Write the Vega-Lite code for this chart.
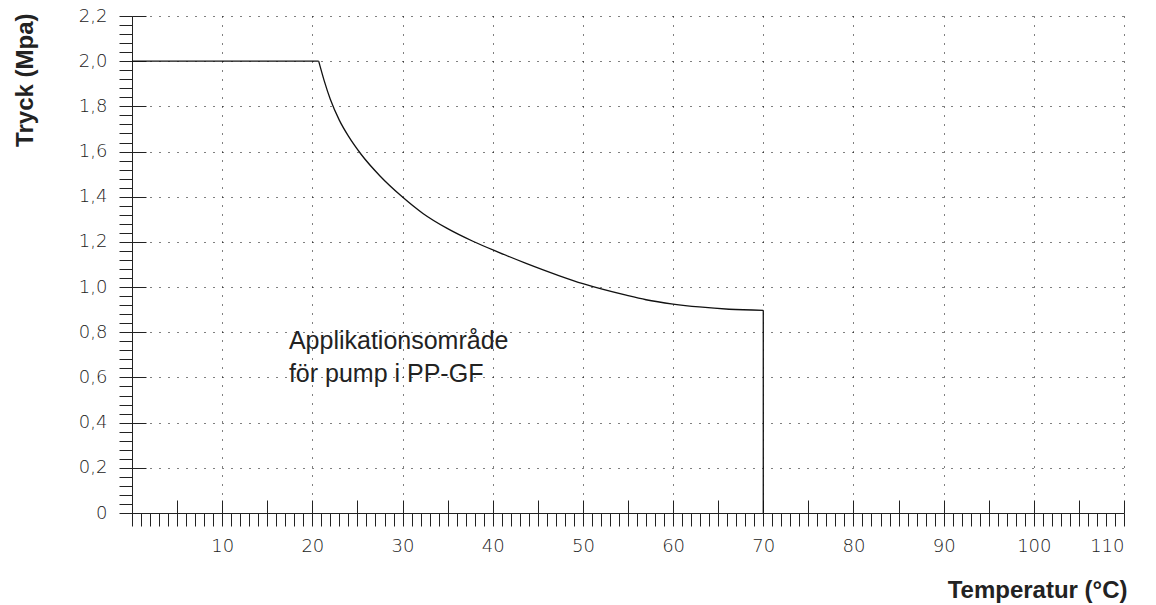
{
  "$schema": "https://vega.github.io/schema/vega-lite/v6.json",
  "autosize": "none",
  "width": 992,
  "height": 497,
  "padding": {"left": 132, "top": 16, "right": 32, "bottom": 92},
  "background": "white",
  "config": {"view": {"stroke": null}},
  "datasets": {
    "curve": [
      {"T": 0, "P": 2.0, "seg": "a"},
      {"T": 20.7, "P": 2.0, "seg": "a"},
      {"T": 20.7, "P": 2.0, "seg": "b"},
      {"T": 21.3, "P": 1.915, "seg": "b"},
      {"T": 22.0, "P": 1.83, "seg": "b"},
      {"T": 23.0, "P": 1.738, "seg": "b"},
      {"T": 24.0, "P": 1.668, "seg": "b"},
      {"T": 25.4, "P": 1.588, "seg": "b"},
      {"T": 27.5, "P": 1.492, "seg": "b"},
      {"T": 29.9, "P": 1.402, "seg": "b"},
      {"T": 32.3, "P": 1.325, "seg": "b"},
      {"T": 34.9, "P": 1.261, "seg": "b"},
      {"T": 37.8, "P": 1.203, "seg": "b"},
      {"T": 40.6, "P": 1.155, "seg": "b"},
      {"T": 43.7, "P": 1.105, "seg": "b"},
      {"T": 47.4, "P": 1.05, "seg": "b"},
      {"T": 50.0, "P": 1.015, "seg": "b"},
      {"T": 54.8, "P": 0.964, "seg": "b"},
      {"T": 57.0, "P": 0.944, "seg": "b"},
      {"T": 60.0, "P": 0.925, "seg": "b"},
      {"T": 62.9, "P": 0.912, "seg": "b"},
      {"T": 66.2, "P": 0.902, "seg": "b"},
      {"T": 70.0, "P": 0.897, "seg": "b"},
      {"T": 70.0, "P": 0.897, "seg": "c"},
      {"T": 70.0, "P": 0.0, "seg": "c"}
    ],
    "note": [
      {"T": 17.4, "P": 0.724, "label": "Applikationsområde\nför pump i PP-GF"}
    ]
  },
  "resolve": {"axis": {"x": "independent", "y": "independent"}},
  "layer": [
    {
      "data": {"name": "curve"},
      "mark": {"type": "point", "opacity": 0},
      "encoding": {
        "x": {"field": "T", "type": "quantitative",
          "scale": {"domain": [0, 110], "nice": false, "zero": false},
          "axis": {"orient": "bottom", "values": [10,20,30,40,50,60,70,80,90,100,110], "ticks": false, "domain": false,
            "grid": true, "gridDash": [1, 8], "gridColor": "#000", "gridWidth": 1, "gridOpacity": 1,
            "labelPadding": 24, "labelFont": "DejaVu Sans", "labelFontWeight": 200, "labelFontSize": 18, "labelColor": "#222",
            "title": "Temperatur (°C)", "titleFont": "Liberation Sans", "titleFontWeight": "bold", "titleFontSize": 24, "titleColor": "#222",
            "titleAnchor": null, "titleAlign": "right", "titleBaseline": "middle", "titleX": 995, "titleY": 77}},
        "y": {"field": "P", "type": "quantitative",
          "scale": {"domain": [0, 2.2], "nice": false, "zero": false},
          "axis": {"orient": "left", "values": [0,0.2,0.4,0.6,0.8,1.0,1.2,1.4,1.6,1.8,2.0,2.2], "ticks": false, "domain": false,
            "grid": true, "gridDash": [1, 8], "gridColor": "#000", "gridWidth": 1, "gridOpacity": 1,
            "labelExpr": "datum.value == 0 ? '0' : replace(format(datum.value, '.1f'), '.', ',')",
            "labelPadding": 25, "labelFont": "DejaVu Sans", "labelFontWeight": 200, "labelFontSize": 18, "labelColor": "#222",
            "title": "Tryck (Mpa)", "titleFont": "Liberation Sans", "titleFontWeight": "bold", "titleFontSize": 24, "titleColor": "#222",
            "titleAnchor": null, "titleAngle": 270, "titleAlign": "right", "titleBaseline": "middle", "titleX": -107, "titleY": -3}}
      }
    },
    {
      "data": {"name": "curve"},
      "mark": {"type": "line", "color": "#111", "strokeWidth": 1.3, "interpolate": "monotone"},
      "encoding": {
        "x": {"field": "T", "type": "quantitative",
          "axis": {"orient": "bottom", "values": [0,1,2,3,4,5,6,7,8,9,10,11,12,13,14,15,16,17,18,19,20,21,22,23,24,25,26,27,28,29,30,31,32,33,34,35,36,37,38,39,40,41,42,43,44,45,46,47,48,49,50,51,52,53,54,55,56,57,58,59,60,61,62,63,64,65,66,67,68,69,70,71,72,73,74,75,76,77,78,79,80,81,82,83,84,85,86,87,88,89,90,91,92,93,94,95,96,97,98,99,100,101,102,103,104,105,106,107,108,109,110],
            "tickSize": 13, "tickColor": "#222", "tickWidth": 1, "domain": true, "domainColor": "#222", "domainWidth": 1,
            "labels": false, "grid": false, "title": null}},
        "y": {"field": "P", "type": "quantitative",
          "axis": {"orient": "left", "values": [0,0.04,0.08,0.12,0.16,0.2,0.24,0.28,0.32,0.36,0.4,0.44,0.48,0.52,0.56,0.6,0.64,0.68,0.72,0.76,0.8,0.84,0.88,0.92,0.96,1.0,1.04,1.08,1.12,1.16,1.2,1.24,1.28,1.32,1.36,1.4,1.44,1.48,1.52,1.56,1.6,1.64,1.68,1.72,1.76,1.8,1.84,1.88,1.92,1.96,2.0,2.04,2.08,2.12,2.16,2.2],
            "tickSize": 13, "tickColor": "#222", "tickWidth": 1, "domain": true, "domainColor": "#222", "domainWidth": 1,
            "labels": false, "grid": false, "title": null}},
        "detail": {"field": "seg", "type": "nominal"}
      }
    },
    {
      "data": {"name": "note"},
      "mark": {"type": "text", "align": "left", "baseline": "alphabetic", "font": "Liberation Sans", "fontSize": 25, "color": "#222", "lineBreak": "\n", "lineHeight": 33},
      "encoding": {
        "x": {"field": "T", "type": "quantitative",
          "axis": {"orient": "bottom", "values": [5,10,15,20,25,30,35,40,45,50,55,60,65,70,75,80,85,90,95,100,105,110],
            "tickSize": -13, "tickColor": "#222", "tickWidth": 1, "domain": false, "labels": false, "grid": false, "title": null}},
        "y": {"field": "P", "type": "quantitative",
          "axis": {"orient": "left", "values": [0,0.2,0.4,0.6,0.8,1.0,1.2,1.4,1.6,1.8,2.0,2.2],
            "tickSize": -14, "tickColor": "#222", "tickWidth": 1, "domain": false, "labels": false, "grid": false, "title": null}},
        "text": {"field": "label"}
      }
    }
  ]
}
